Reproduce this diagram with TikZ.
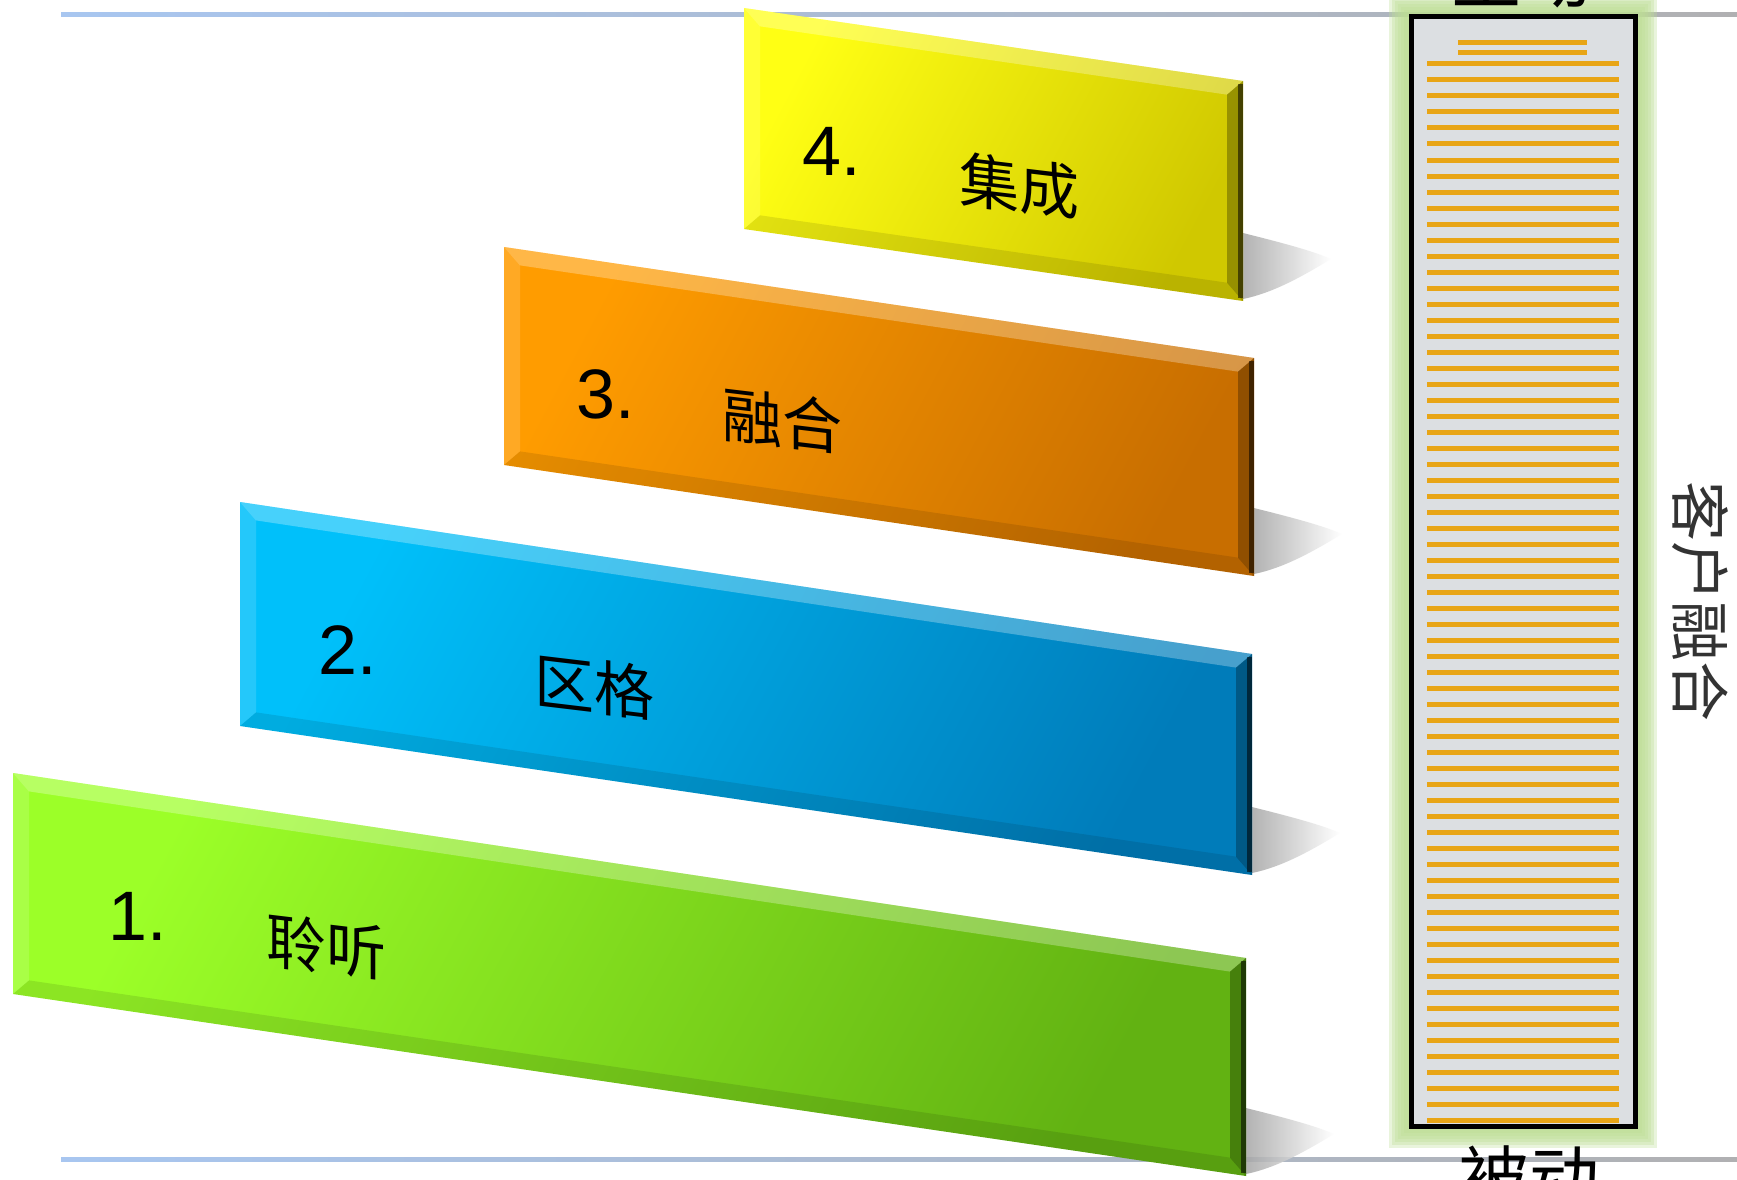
\documentclass[tikz,border=0pt]{standalone}
\usepackage{fontspec}
\setmainfont{Liberation Sans}
\newfontfamily\cjk{Noto Sans CJK SC}
\usetikzlibrary{calc}
\definecolor{glowgreen}{RGB}{190,222,150}
\definecolor{boxgray}{RGB}{220,223,226}
\definecolor{lineor}{RGB}{232,165,22}
\definecolor{ruleblue}{RGB}{168,198,240}
\definecolor{rulegray}{RGB}{176,176,178}
\definecolor{ylight}{RGB}{255,255,20}
\definecolor{ydark}{RGB}{208,200,0}
\definecolor{olight}{RGB}{255,156,0}
\definecolor{odark}{RGB}{200,110,0}
\definecolor{blight}{RGB}{0,192,250}
\definecolor{bdark}{RGB}{0,124,186}
\definecolor{glight}{RGB}{156,255,40}
\definecolor{gdark}{RGB}{98,178,18}
\tikzset{
  num/.style={font=\fontsize{70}{76}\selectfont, text=black, inner sep=0pt},
  cjkl/.style={font=\cjk\fontsize{60}{66}\selectfont, text=black, inner sep=0pt, yslant=-0.12, transform shape},
  sidelbl/.style={font=\cjk\fontsize{70}{76}\selectfont, text=black, inner sep=0pt},
  vlbl/.style={font=\cjk\fontsize{60}{66}\selectfont, text=black!80, inner sep=0pt, rotate=-90},
  oline/.style={draw=lineor, line width=5pt},
  rulestyle/.style={left color=ruleblue, right color=rulegray},
}
\newcommand\drawbar[8]{%
  % #1 L, #2 R, #3 y TL, #4 y TR, #5 y BR, #6 y BL, #7 light, #8 dark
  \pgfmathsetmacro\BarSt{(#4-#3)/(#2-#1)}%
  \pgfmathsetmacro\BarSb{(#5-#6)/(#2-#1)}%
  \pgfmathsetmacro\BarW{16}%
  \pgfmathsetmacro\BarAx{#1+\BarW}%
  \pgfmathsetmacro\BarAy{#3+\BarSt*\BarW+\BarW}%
  \pgfmathsetmacro\BarBx{#2-\BarW}%
  \pgfmathsetmacro\BarBy{#4-\BarSt*\BarW+\BarW}%
  \pgfmathsetmacro\BarCy{#5-\BarSb*\BarW-\BarW}%
  \pgfmathsetmacro\BarDy{#6+\BarSb*\BarW-\BarW}%
  % shadow
  \shade[left color=black!35, right color=white, opacity=.85]
    (#2,#5-68) .. controls (#2+40,#5-58) and (#2+70,#5-50) .. (#2+88,#5-42)
    .. controls (#2+60,#5-25) and (#2+30,#5-8) .. (#2,#5-2) -- cycle;
  % body
  \shade[top color=#7, bottom color=#8, shading angle=62]
    (#1,#3) -- (#2,#4) -- (#2,#5) -- (#1,#6) -- cycle;
  % bevels
  \fill[white, opacity=.28] (#1,#3) -- (#2,#4) -- (\BarBx,\BarBy) -- (\BarAx,\BarAy) -- cycle;
  \fill[white, opacity=.14] (#1,#3) -- (\BarAx,\BarAy) -- (\BarAx,\BarDy) -- (#1,#6) -- cycle;
  \fill[black, opacity=.10] (#1,#6) -- (\BarAx,\BarDy) -- (\BarBx,\BarCy) -- (#2,#5) -- cycle;
  \fill[black, opacity=.28] (#2,#4) -- (#2,#5) -- (\BarBx,\BarCy) -- (\BarBx,\BarBy) -- cycle;
  \fill[black, opacity=.55] (#2-5,#4+3) rectangle (#2,#5-3);
}
\begin{document}
\begin{tikzpicture}[x=1pt, y=-1pt]
\useasboundingbox (0,0) rectangle (1737,1180);
\fill[white] (0,0) rectangle (1737,1180);
% rules
\shade[rulestyle] (61,13) rectangle (1737,17);
\shade[rulestyle] (61,1157) rectangle (1737,1161);
% green glow and box
\foreach \g in {20,17,14,11,8,5} {
  \fill[glowgreen, opacity=.33] (1409-\g,15-\g) rectangle (1637+\g,1128+\g);
}
\draw[line width=5pt, fill=boxgray] (1411,17) rectangle (1635,1126);
\draw[oline] (1458,43) -- (1587,43);
\draw[oline] (1458,53) -- (1587,53);
\foreach \k in {0,...,66} {
  \draw[oline] (1427,64+16*\k) -- (1619,64+16*\k);
}
% bars
\drawbar{744}{1243}{8}{81}{301}{229}{ylight}{ydark}
\drawbar{504}{1254}{247}{358}{576}{465}{olight}{odark}
\drawbar{240}{1252}{502}{654}{875}{726}{blight}{bdark}
\drawbar{13}{1246}{773}{958}{1176}{994}{glight}{gdark}
% labels
\node[num] (n4) at (832,151) {4.};
\node[cjkl] (t4) at (1019,186) {集成};
\node[num] (n3) at (606,394) {3.};
\node[cjkl] (t3) at (782,421) {融合};
\node[num] (n2) at (348,650) {2.};
\node[cjkl] (t2) at (594,687) {区格};
\node[num] (n1) at (138,916) {1.};
\node[cjkl] (t1) at (326,947) {聆听};
\node[sidelbl] (top) at (1521,-24) {主动};
\node[sidelbl] (bot) at (1529,1178) {被动};
\node[vlbl] (side) at (1700,601) {客户融合};
\end{tikzpicture}
\end{document}
